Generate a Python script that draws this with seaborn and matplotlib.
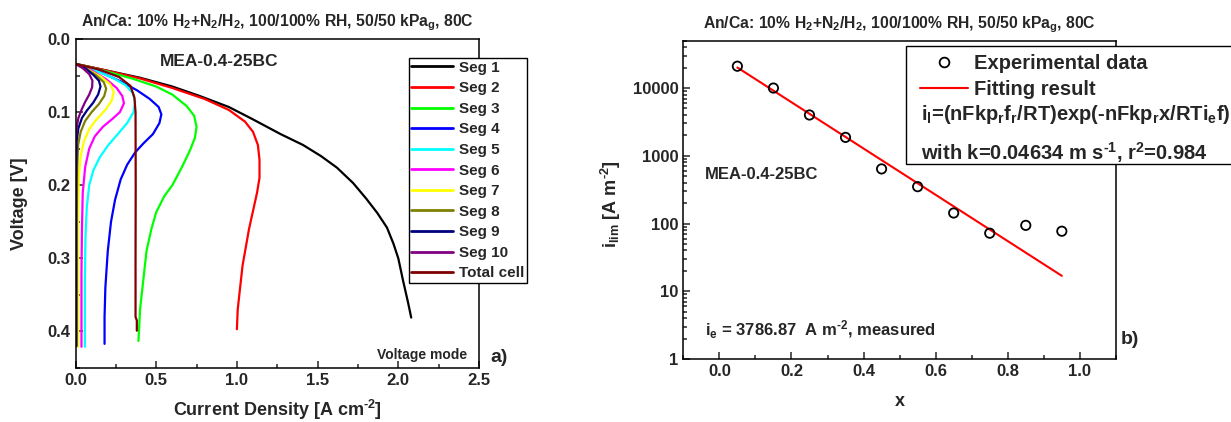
import matplotlib
matplotlib.use("Agg")
import matplotlib.pyplot as plt
from matplotlib.lines import Line2D
from matplotlib.patches import Rectangle
from matplotlib.ticker import MultipleLocator, FixedLocator, LogLocator, NullFormatter
import seaborn as sns
import pandas as pd

# ---------------- segmented polarization curves (panel a) ----------------
seg1_i = [0, 0.17, 0.40, 0.60, 0.77, 0.95, 1.10, 1.27, 1.41, 1.52, 1.62, 1.72, 1.80, 1.87, 1.93, 1.97, 2.00, 2.03, 2.06, 2.08]
seg1_v = [0.034, 0.042, 0.053, 0.065, 0.078, 0.093, 0.110, 0.130, 0.145, 0.160, 0.176, 0.197, 0.218, 0.238, 0.258, 0.280, 0.300, 0.331, 0.360, 0.381]
seg2_i = [0, 0.17, 0.40, 0.60, 0.80, 0.95, 1.05, 1.10, 1.13, 1.14, 1.14, 1.125, 1.10, 1.075, 1.055, 1.035, 1.02, 1.005, 1.00]
seg2_v = [0.034, 0.042, 0.054, 0.067, 0.082, 0.097, 0.113, 0.127, 0.145, 0.165, 0.190, 0.210, 0.235, 0.260, 0.285, 0.310, 0.340, 0.370, 0.397]
seg3_i = [0, 0.17, 0.35, 0.50, 0.60, 0.69, 0.735, 0.75, 0.74, 0.71, 0.66, 0.60, 0.55, 0.50, 0.47, 0.44, 0.42, 0.40, 0.39]
seg3_v = [0.034, 0.043, 0.054, 0.065, 0.076, 0.092, 0.105, 0.120, 0.135, 0.152, 0.175, 0.200, 0.215, 0.237, 0.260, 0.290, 0.330, 0.370, 0.413]
seg4_i = [0, 0.15, 0.28, 0.38, 0.46, 0.515, 0.532, 0.52, 0.48, 0.42, 0.37, 0.32, 0.28, 0.245, 0.22, 0.20, 0.185, 0.18, 0.18]
seg4_v = [0.034, 0.045, 0.058, 0.070, 0.082, 0.093, 0.103, 0.115, 0.130, 0.143, 0.155, 0.172, 0.192, 0.220, 0.250, 0.290, 0.340, 0.380, 0.417]
seg5_i = [0, 0.12, 0.23, 0.31, 0.355, 0.37, 0.36, 0.32, 0.27, 0.20, 0.15, 0.11, 0.085, 0.07, 0.062, 0.058, 0.058]
seg5_v = [0.034, 0.043, 0.053, 0.063, 0.074, 0.086, 0.100, 0.115, 0.128, 0.146, 0.162, 0.180, 0.200, 0.230, 0.270, 0.330, 0.421]
seg6_i = [0, 0.10, 0.19, 0.255, 0.29, 0.30, 0.275, 0.23, 0.17, 0.12, 0.085, 0.06, 0.045, 0.04, 0.037, 0.037]
seg6_v = [0.034, 0.043, 0.055, 0.067, 0.078, 0.088, 0.100, 0.109, 0.120, 0.133, 0.150, 0.175, 0.210, 0.260, 0.320, 0.421]
seg7_i = [0, 0.08, 0.16, 0.215, 0.237, 0.225, 0.185, 0.13, 0.085, 0.052, 0.032, 0.02, 0.016, 0.016]
seg7_v = [0.034, 0.042, 0.052, 0.062, 0.072, 0.084, 0.097, 0.110, 0.123, 0.140, 0.160, 0.190, 0.250, 0.421]
seg8_i = [0, 0.07, 0.13, 0.175, 0.19, 0.178, 0.145, 0.10, 0.06, 0.032, 0.016, 0.010, 0.008, 0.008]
seg8_v = [0.034, 0.041, 0.050, 0.059, 0.068, 0.078, 0.089, 0.100, 0.112, 0.127, 0.145, 0.180, 0.250, 0.420]
seg9_i = [0, 0.06, 0.11, 0.145, 0.155, 0.14, 0.11, 0.07, 0.04, 0.018, 0.007, 0.004, 0.004]
seg9_v = [0.034, 0.040, 0.049, 0.057, 0.065, 0.076, 0.087, 0.098, 0.108, 0.122, 0.140, 0.200, 0.420]
seg10_i = [0, 0.045, 0.085, 0.105, 0.103, 0.085, 0.06, 0.037, 0.018, 0.008, 0.003, 0.002, 0.002]
seg10_v = [0.034, 0.040, 0.048, 0.057, 0.066, 0.076, 0.086, 0.097, 0.108, 0.120, 0.135, 0.200, 0.420]
total_i = [0, 0.15, 0.27, 0.34, 0.365, 0.372, 0.373, 0.372, 0.372, 0.38, 0.38]
total_v = [0.034, 0.042, 0.052, 0.064, 0.080, 0.100, 0.200, 0.300, 0.380, 0.385, 0.399]

series_labels = ["Seg 1", "Seg 2", "Seg 3", "Seg 4", "Seg 5", "Seg 6",
                 "Seg 7", "Seg 8", "Seg 9", "Seg 10", "Total cell"]
series_colors = ["#000000", "#ff0000", "#00ff00", "#0000ff", "#00ffff", "#ff00ff",
                 "#ffff00", "#808000", "#000080", "#800080", "#800000"]
series_i = [seg1_i, seg2_i, seg3_i, seg4_i, seg5_i, seg6_i, seg7_i, seg8_i, seg9_i, seg10_i, total_i]
series_v = [seg1_v, seg2_v, seg3_v, seg4_v, seg5_v, seg6_v, seg7_v, seg8_v, seg9_v, seg10_v, total_v]

# ---------------- limiting current vs. position (panel b) ----------------
pos_x = [0.05, 0.15, 0.25, 0.35, 0.45, 0.55, 0.65, 0.75, 0.85, 0.95]
i_lim = [21000, 10000, 4000, 1870, 640, 350, 143, 72, 94, 77]
fit_x = [0.05, 0.95]
fit_i = [20100, 16.9]

sns.set_style("ticks")
plt.rcParams["font.family"] = ["Liberation Sans", "DejaVu Sans"]
plt.rcParams["font.weight"] = "bold"
plt.rcParams["mathtext.fontset"] = "custom"
plt.rcParams["mathtext.default"] = "regular"
plt.rcParams["axes.linewidth"] = 1.1
plt.rcParams["xtick.direction"] = "in"
plt.rcParams["ytick.direction"] = "in"

TITLE = r"An/Ca: 10% H$_2$+N$_2$/H$_2$, 100/100% RH, 50/50 kPa$_g$, 80C"

W, H = 1231, 422
fig = plt.figure(figsize=(W / 100, H / 100), dpi=100)
ax1 = fig.add_axes([75.5 / W, 1 - 368 / H, 403.5 / W, 329 / H])
ax2 = fig.add_axes([683.3 / W, 1 - 359 / H, 432.6 / W, 318.3 / H])


def style_axes(ax):
    ax.tick_params(which="both", top=False, right=False, width=1.1, labelsize=12)
    ax.tick_params(which="major", length=5)
    ax.tick_params(which="minor", length=3)
    for s in ax.spines.values():
        s.set_visible(True)
        s.set_color("black")


# ---------- panel a ----------
for lab, xs, vs, col in zip(series_labels, series_i, series_v, series_colors):
    df = pd.DataFrame({"i": xs, "v": vs})
    sns.lineplot(data=df, x="i", y="v", sort=False, estimator=None, color=col,
                 lw=1.6, label=lab, ax=ax1)

ax1.set_xlim(0, 2.5)
ax1.set_ylim(0.45, 0.0)
ax1.xaxis.set_minor_locator(MultipleLocator(0.25))
ax1.yaxis.set_minor_locator(MultipleLocator(0.05))
ax1.set_xticks([0, 0.5, 1.0, 1.5, 2.0, 2.5])
ax1.set_xticklabels(["0.0", "0.5", "1.0", "1.5", "2.0", "2.5"], fontweight="bold")
ax1.set_yticks([0.0, 0.1, 0.2, 0.3, 0.4])
ax1.set_yticklabels(["0.0", "0.1", "0.2", "0.3", "0.4"], fontweight="bold")
style_axes(ax1)

ax1.set_xlabel("Current Density [A cm$^{\u20102}$]", fontsize=13, fontweight="bold")
ax1.set_ylabel("Voltage [V]", fontsize=13, fontweight="bold")
ax1.xaxis.label.set_va("center")
ax1.yaxis.label.set_va("center")
ax1.xaxis.set_label_coords(0.5, (368 - 410) / 329)
ax1.yaxis.set_label_coords((20 - 75.5) / 403.5, 0.5)
ax1.set_title(TITLE, fontsize=11.3, fontweight="bold", pad=9)

ax1.text((219 - 75.5) / 403.5, (368 - 62) / 329, "MEA-0.4-25BC", transform=ax1.transAxes,
         ha="center", va="center", fontsize=12.5, fontweight="bold")
ax1.text((467 - 75.5) / 403.5, (368 - 355) / 329, "Voltage mode", transform=ax1.transAxes,
         ha="right", va="center", fontsize=10, fontweight="bold")
ax1.text((490 - 75.5) / 403.5, (368 - 357) / 329, "a)", transform=ax1.transAxes,
         ha="left", va="center", fontsize=14, fontweight="bold")

leg1 = ax1.legend(loc="upper left", bbox_to_anchor=((409 - 75.5) / 403.5, (368 - 58.5) / 329),
                  borderaxespad=0, fancybox=False, edgecolor="black", framealpha=1,
                  prop={"size": 11, "weight": "bold"}, handlelength=2.7, handletextpad=0.45,
                  labelspacing=0.43, borderpad=0.15)
leg1.get_frame().set_linewidth(1.0)
for h in leg1.get_lines():
    h.set_linewidth(2.0)

# ---------- panel b ----------
sns.scatterplot(x=pos_x, y=i_lim, ax=ax2, s=45, marker="o", linewidth=1.3, zorder=3)
pts = ax2.collections[-1]
pts.set_facecolor("none")
pts.set_edgecolor("black")
sns.lineplot(x=fit_x, y=fit_i, ax=ax2, color="#ff0000", lw=1.5, sort=False, estimator=None)

ax2.set_yscale("log")
ax2.set_xlim(-0.1, 1.1)
ax2.set_ylim(1, 5e4)
ax2.xaxis.set_major_locator(FixedLocator([0.0, 0.2, 0.4, 0.6, 0.8, 1.0]))
ax2.xaxis.set_minor_locator(MultipleLocator(0.1))
ax2.set_xticklabels(["0.0", "0.2", "0.4", "0.6", "0.8", "1.0"], fontweight="bold")
ax2.yaxis.set_major_locator(FixedLocator([1, 10, 100, 1000, 10000]))
ax2.yaxis.set_minor_locator(LogLocator(base=10, subs=range(2, 10)))
ax2.yaxis.set_minor_formatter(NullFormatter())
ax2.set_yticklabels(["1", "10", "100", "1000", "10000"], fontweight="bold")
style_axes(ax2)

X0, Y0, AW, AH = 683.3, 359, 432.6, 318.3


def ax2_xy(px, py):
    return (px - X0) / AW, (Y0 - py) / AH


ax2.set_xlabel("x", fontsize=13, fontweight="bold")
ax2.set_ylabel("i$_{lim}$ [A m$^{\u20102}$]", fontsize=13, fontweight="bold")
ax2.xaxis.label.set_va("center")
ax2.yaxis.label.set_va("center")
ax2.xaxis.set_label_coords(0.5, ax2_xy(0, 401.7)[1])
ax2.yaxis.set_label_coords(ax2_xy(611, 0)[0], ax2_xy(0, 204)[1])
ax2.set_title(TITLE, fontsize=11.3, fontweight="bold", pad=9)

ax2.text(*ax2_xy(704.6, 175), "MEA-0.4-25BC", transform=ax2.transAxes,
         ha="left", va="center", fontsize=12, fontweight="bold")
ax2.text(*ax2_xy(704.6, 330), "i$_e$ = 3786.87  A m$^{\u20102}$, measured",
         transform=ax2.transAxes, ha="left", va="center", fontsize=12, fontweight="bold")
ax2.text(*ax2_xy(1121, 340), "b)", transform=ax2.transAxes,
         ha="left", va="center", fontsize=14, fontweight="bold")

# legend box with the fitted model written under the entries
box_l, box_t = ax2_xy(905.8, 45.7)
box_b = ax2_xy(0, 164)[1]
ax2.add_patch(Rectangle((box_l, box_b), 1.0, box_t - box_b, transform=ax2.transAxes,
                        facecolor="white", edgecolor="black", lw=1.0, clip_on=False, zorder=4))
handles = [Line2D([], [], ls="none", marker="o", mfc="none", mec="black", ms=7, mew=1.3),
           Line2D([], [], color="#ff0000", lw=1.5)]
leg2 = ax2.legend(handles, ["Experimental data", "Fitting result"], loc="upper left",
                  bbox_to_anchor=ax2_xy(920, 54), borderaxespad=0, frameon=False,
                  prop={"size": 14.5, "weight": "bold"},
                  handlelength=2.4, handletextpad=0.3, labelspacing=0.36, borderpad=0)
leg2.set_zorder(6)
ax2.text(*ax2_xy(920.7, 115), r"i$_l$=(nFkp$_r$f$_r$/RT)exp(-nFkp$_r$x/RTi$_e$f)",
         transform=ax2.transAxes, ha="left", va="center", fontsize=14.5, fontweight="bold",
         zorder=6, clip_on=False)
ax2.text(*ax2_xy(920.7, 153), "with k=0.04634 m s$^{\u20101}$, r$^2$=0.984",
         transform=ax2.transAxes, ha="left", va="center", fontsize=14.5, fontweight="bold",
         zorder=6, clip_on=False)

fig.savefig("out.png", dpi=100, facecolor="white")
